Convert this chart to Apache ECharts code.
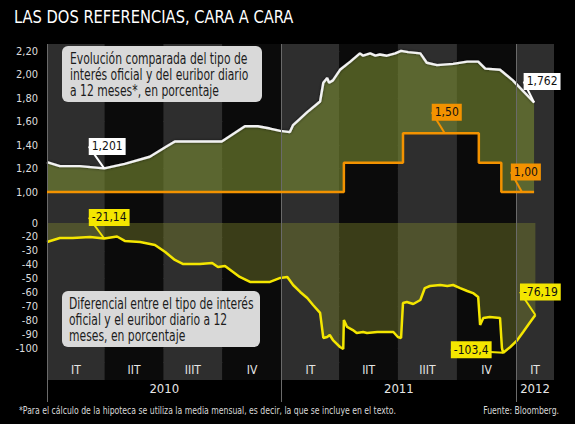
<!DOCTYPE html>
<html>
<head>
<meta charset="utf-8">
<script src="https://cdn.jsdelivr.net/npm/echarts@6/dist/echarts.min.js"></script>
<style>
  html, body { margin: 0; padding: 0; background: #000; }
  #chart { width: 575px; height: 424px; }
</style>
</head>
<body>
<div id="chart"></div>
<script>
const FONT = "'Liberation Sans Narrow', 'DejaVu Sans Condensed', 'Roboto Condensed', sans-serif";

// euribor diario a 12 meses (%)
const euriborDates = [
  '2010-01-01', '2010-01-21', '2010-02-21', '2010-03-31', '2010-05-02', '2010-06-10',
  '2010-07-04', '2010-07-19', '2010-09-30', '2010-11-05', '2010-11-25', '2010-12-14',
  '2010-12-30', '2011-01-14', '2011-01-19', '2011-02-10', '2011-03-02', '2011-03-07',
  '2011-03-13', '2011-03-16', '2011-03-22', '2011-04-02', '2011-04-18', '2011-05-03',
  '2011-05-08', '2011-05-19', '2011-05-27', '2011-06-03', '2011-06-14', '2011-06-27',
  '2011-07-06', '2011-07-17', '2011-08-05', '2011-08-15', '2011-08-31', '2011-09-25',
  '2011-10-17', '2011-11-03', '2011-11-14', '2011-12-07', '2011-12-27', '2012-01-29'
]
const euriborValues = [
  1.255, 1.22, 1.22, 1.201, 1.24, 1.30,
  1.38, 1.43, 1.43, 1.56, 1.56, 1.54,
  1.52, 1.51, 1.57, 1.68, 1.77, 1.93,
  1.97, 1.93, 1.95, 2.04, 2.11, 2.18,
  2.16, 2.18, 2.16, 2.17, 2.16, 2.18,
  2.201, 2.19, 2.18, 2.10, 2.08, 2.09,
  2.11, 2.11, 2.05, 2.04, 1.95, 1.762
]

// tipo de interés oficial (%), fechas de cambio
const officialDates = ['2010-01-01', '2011-04-08', '2011-07-09', '2011-11-04', '2011-12-09', '2012-01-29']
const officialValues = [1.00, 1.25, 1.50, 1.25, 1.00, 1.00]

// diferencial
const diffDates = [
  '2010-01-01', '2010-01-21', '2010-02-10', '2010-03-09', '2010-03-31', '2010-04-20',
  '2010-05-02', '2010-05-26', '2010-06-18', '2010-07-04', '2010-07-19', '2010-08-01',
  '2010-08-27', '2010-09-15', '2010-09-24', '2010-10-05', '2010-10-28', '2010-11-13',
  '2010-12-14', '2010-12-30', '2011-01-10', '2011-01-19', '2011-01-30', '2011-02-10',
  '2011-02-19', '2011-03-02', '2011-03-07', '2011-03-13', '2011-03-17', '2011-03-22',
  '2011-04-02', '2011-04-07', '2011-04-08', '2011-04-13', '2011-04-22', '2011-04-28',
  '2011-05-08', '2011-05-14', '2011-05-30', '2011-06-24', '2011-07-01', '2011-07-06',
  '2011-07-09', '2011-07-15', '2011-07-25', '2011-08-05', '2011-08-12', '2011-08-20',
  '2011-09-05', '2011-09-16', '2011-09-25', '2011-10-06', '2011-10-17', '2011-10-26',
  '2011-11-03', '2011-11-06', '2011-11-11', '2011-11-21', '2011-12-07', '2011-12-10',
  '2011-12-12', '2011-12-23', '2012-01-03', '2012-01-12', '2012-01-23', '2012-01-31'
]
const diffValues = [
  -23.7, -20.8, -20.8, -20.1, -21.14, -19.7,
  -22.9, -23.7, -25.8, -30.9, -36.6, -39.5,
  -39.5, -38.8, -41.7, -40.9, -48.8, -52.4,
  -52.4, -49.5, -48.8, -54.6, -59.6, -64.0,
  -69.0, -74.7, -92.7, -92.0, -90.6, -94.2,
  -99.2, -100.6, -79.8, -84.8, -87.0, -89.1,
  -88.4, -89.1, -88.4, -88.4, -92.0, -92.7,
  -67.6, -66.8, -68.3, -65.4, -56.8, -55.3,
  -54.6, -55.3, -54.6, -56.8, -58.9, -60.4,
  -63.2, -83.4, -78.3, -77.6, -78.3, -100.0,
  -103.4, -99.2, -94.2, -88.4, -81.2, -76.19
]

// eje horizontal
const quarterStarts = ['2010-01-01', '2010-04-01', '2010-07-01', '2010-10-01', '2011-01-01', '2011-04-01', '2011-07-01', '2011-10-01', '2012-01-01']
const quarterEnds = ['2010-04-01', '2010-07-01', '2010-10-01', '2011-01-01', '2011-04-01', '2011-07-01', '2011-10-01', '2012-01-01', '2012-02-29']
const quarterLabels = ['IT', 'IIT', 'IIIT', 'IV', 'IT', 'IIT', 'IIIT', 'IV', 'IT']
const yearStarts = ['2010-01-01', '2011-01-01', '2012-01-01']
const yearEnds = ['2011-01-01', '2012-01-01', '2012-02-29']
const yearLabels = ['2010', '2011', '2012']

// eje vertical inferior
const diffTickValues = [-10, -20, -30, -40, -50, -60, -70, -80, -90, -100]
const diffTickLabels = ['0', '-20', '-30', '-40', '-50', '-60', '-70', '-80', '-90', '-100']

// etiquetas destacadas
const euriborCallDates = ['2010-03-31', '2011-07-06', '2012-01-29']
const euriborCallValues = [1.201, 2.201, 1.762]
const euriborCallTexts = ['1,201', '2,201', '1,762']
const officialCallDates = ['2011-09-12', '2012-01-10']
const officialCallValues = [1.50, 1.00]
const officialCallTexts = ['1,50', '1,00']
const diffCallDates = ['2010-03-31', '2011-12-12', '2012-01-31']
const diffCallValues = [-21.14, -103.4, -76.19]
const diffCallTexts = ['-21,14', '-103,4', '-76,19']

// desplazamiento de las etiquetas (px)
const euriborCallShift = [[3, -22], [4, -15], [8, -21]]
const officialCallShift = [[2, -21], [4, -20]]
const diffCallShift = [[5, -21], [-32, -3], [5, -23]]

const X_MIN = '2010-01-01'
const X_MAX = '2012-02-29'
const WHITE = '#f2f2f2'
const ORANGE = '#f39200'
const YELLOW = '#f4e600'
const BAND_GREY = '#2e2e2e'
const BAND_DARK = '#0b0b0b'
const GRID_LINE = 'rgba(255,255,255,0.2)'

const ts = (s) => {
  const [y, m, d] = s.split('-').map(Number)
  return new Date(y, m - 1, d).getTime()
}

const pair = (dates, values) => dates.map((d, i) => [d, values[i]])

const timeAxis = (gridIndex) => ({
  type: 'time', gridIndex, min: X_MIN, max: X_MAX, show: false
})

const callouts = (xi, dates, values, texts, shifts, bg) => ({
  type: 'scatter',
  xAxisIndex: xi,
  yAxisIndex: xi,
  symbolSize: 0,
  silent: true,
  z: 10,
  data: dates.map((d, i) => ({ value: [d, values[i]], label: { formatter: texts[i] } })),
  label: {
    show: true,
    position: 'inside',
    opacity: 1,
    backgroundColor: bg,
    color: '#111',
    fontFamily: FONT,
    fontSize: 12,
    padding: [3, 3, 2, 3]
  },
  labelLine: { show: true, lineStyle: { color: bg, width: 2, opacity: 1 } },
  labelLayout: (p) => ({ dx: shifts[p.dataIndex][0], dy: shifts[p.dataIndex][1] })
})

const chart = echarts.init(document.getElementById('chart'), null, { renderer: 'svg' })

chart.setOption({
  backgroundColor: '#000',
  animation: false,
  textStyle: { fontFamily: FONT },
  grid: [
    { left: 47, right: 21, top: 44, bottom: 44 },
    { left: 47, right: 21, top: 380, bottom: 22 },
    { left: 47, right: 21, top: 51, height: 141 },
    { left: 47, right: 21, top: 223, bottom: 62 }
  ],
  xAxis: [timeAxis(0), timeAxis(1), timeAxis(2), timeAxis(3)],
  yAxis: [
    { type: 'value', gridIndex: 0, min: 0, max: 1, show: false },
    { type: 'value', gridIndex: 1, min: 0, max: 1, show: false },
    {
      type: 'value', gridIndex: 2, min: 1, max: 2.2, interval: 0.2,
      axisLine: { show: false }, axisTick: { show: false },
      axisLabel: {
        color: '#dcdcdc', fontSize: 11, margin: 9,
        formatter: (v) => v.toFixed(2).replace('.', ',')
      },
      splitLine: { lineStyle: { color: GRID_LINE } }
    },
    {
      type: 'value', gridIndex: 3, min: -110, max: -10, interval: 10,
      axisLine: { show: false }, axisTick: { show: false },
      axisLabel: {
        color: '#dcdcdc', fontSize: 11, margin: 9,
        formatter: (v) => {
          const i = diffTickValues.indexOf(Math.round(v))
          return i < 0 ? '' : diffTickLabels[i]
        }
      },
      splitLine: { lineStyle: { color: GRID_LINE } }
    }
  ],
  series: [
    {
      // bandas trimestrales
      type: 'line', xAxisIndex: 0, yAxisIndex: 0, data: [], silent: true, z: 0,
      markArea: {
        silent: true,
        label: { position: 'insideBottom', distance: 4, color: '#e6e6e6', fontSize: 12, fontFamily: FONT },
        data: quarterLabels.map((q, i) => [
          { name: q, xAxis: quarterStarts[i], itemStyle: { color: i % 2 ? BAND_DARK : BAND_GREY } },
          { xAxis: quarterEnds[i] }
        ])
      },
      markLine: {
        silent: true, symbol: 'none', label: { show: false },
        lineStyle: { color: '#6a6a6a', width: 1, type: 'solid' },
        data: yearStarts.map((d) => ({ xAxis: d }))
      }
    },
    {
      // años
      type: 'line', xAxisIndex: 1, yAxisIndex: 1, data: [], silent: true,
      markArea: {
        silent: true,
        label: { position: 'insideTop', distance: 2, color: '#e6e6e6', fontSize: 13, fontFamily: FONT },
        itemStyle: { color: 'transparent' },
        data: yearLabels.map((y, i) => [{ name: y, xAxis: yearStarts[i] }, { xAxis: yearEnds[i] }])
      },
      markLine: {
        silent: true, symbol: 'none', label: { show: false },
        lineStyle: { color: '#6a6a6a', width: 1, type: 'solid' },
        data: yearStarts.map((d) => ({ xAxis: d }))
      }
    },
    {
      // relleno entre euribor y tipo oficial
      type: 'custom', xAxisIndex: 2, yAxisIndex: 2, silent: true, z: 2,
      data: [[euriborDates[0], euriborValues[0]]],
      renderItem: (params, api) => {
        const pts = euriborDates.map((d, i) => api.coord([ts(d), euriborValues[i]]))
        const steps = []
        officialDates.forEach((d, i) => {
          steps.push([ts(d), officialValues[i]])
          if (i < officialDates.length - 1) steps.push([ts(officialDates[i + 1]), officialValues[i]])
        })
        steps.reverse().forEach((p) => pts.push(api.coord(p)))
        return { type: 'polygon', shape: { points: pts }, style: { fill: 'rgba(122,140,50,0.6)' } }
      }
    },
    {
      name: 'Euribor', type: 'line', xAxisIndex: 2, yAxisIndex: 2, z: 4,
      data: pair(euriborDates, euriborValues),
      showSymbol: false, clip: false,
      lineStyle: { color: WHITE, width: 2.4, shadowColor: 'rgba(0,0,0,0.6)', shadowBlur: 3 }
    },
    {
      name: 'Tipo oficial', type: 'line', xAxisIndex: 2, yAxisIndex: 2, z: 5,
      data: pair(officialDates, officialValues),
      step: 'end', showSymbol: false, clip: false,
      lineStyle: { color: ORANGE, width: 2.5 }
    },
    {
      name: 'Diferencial', type: 'line', xAxisIndex: 3, yAxisIndex: 3, z: 4,
      data: pair(diffDates, diffValues),
      showSymbol: false, clip: false,
      lineStyle: { color: YELLOW, width: 2.5 },
      areaStyle: { origin: 'end', color: 'rgba(128,136,44,0.58)' }
    },
    callouts(2, euriborCallDates, euriborCallValues, euriborCallTexts, euriborCallShift, '#ffffff'),
    callouts(2, officialCallDates, officialCallValues, officialCallTexts, officialCallShift, ORANGE),
    callouts(3, diffCallDates, diffCallValues, diffCallTexts, diffCallShift, YELLOW)
  ],
  graphic: [
    {
      type: 'text', x: 14, y: 9, scaleX: 0.96, z: 20,
      style: { text: 'LAS DOS REFERENCIAS, CARA A CARA', fill: '#fff', font: `17px ${FONT}` }
    },
    {
      type: 'rect', z: 20,
      shape: { x: 62, y: 46, width: 200, height: 56, r: 6 },
      style: { fill: '#d9d9d9' }
    },
    {
      type: 'text', x: 70, y: 50, scaleX: 0.8, z: 21,
      style: {
        text: 'Evolución comparada del tipo de\ninterés oficial y del euribor diario\na 12 meses*, en porcentaje',
        fill: '#1c1c1c', font: `15px ${FONT}`, lineHeight: 16
      }
    },
    {
      type: 'rect', z: 20,
      shape: { x: 62, y: 291, width: 198, height: 56, r: 6 },
      style: { fill: '#d9d9d9' }
    },
    {
      type: 'text', x: 69, y: 295, scaleX: 0.8, z: 21,
      style: {
        text: 'Diferencial entre el tipo de interés\noficial y el euribor diario a 12\nmeses, en porcentaje',
        fill: '#1c1c1c', font: `15px ${FONT}`, lineHeight: 16
      }
    },
    {
      type: 'text', x: 19, y: 405, scaleX: 0.86, z: 20,
      style: {
        text: '*Para el cálculo de la hipoteca se utiliza la media mensual, es decir, la que se incluye en el texto.',
        fill: '#d8d8d8', font: `10px ${FONT}`
      }
    },
    {
      type: 'text', x: 559, y: 405, scaleX: 0.86, z: 20,
      style: { text: 'Fuente: Bloomberg.', fill: '#d8d8d8', font: `10px ${FONT}`, textAlign: 'right', align: 'right' }
    }
  ]
})
</script>
</body>
</html>
